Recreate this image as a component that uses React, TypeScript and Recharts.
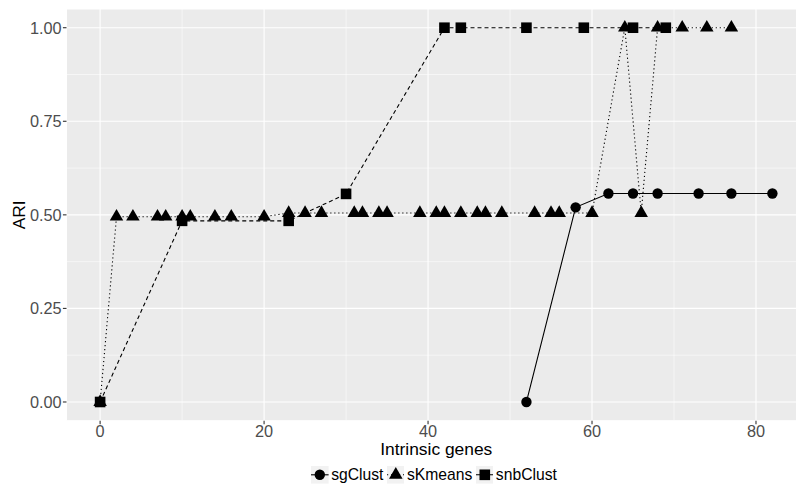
import React from 'react';
import {
  ComposedChart, Line, Scatter, XAxis, YAxis, CartesianGrid, ReferenceLine, Legend,
} from 'recharts';

// ARI per number of intrinsic genes, one pair of arrays per method.
const sgClustX = [52, 58, 62, 65, 68, 73, 77, 82];
const sgClustY = [0, 0.52, 0.557, 0.557, 0.557, 0.557, 0.557, 0.557];

const sKmeansX = [
  0, 2, 4, 7, 8, 10, 11, 14, 16, 20,
  23, 25, 27, 31, 32, 34, 35, 39, 41, 42, 44, 46, 47, 49, 53, 55, 56, 60,
  64, 66, 68, 71, 74, 77,
];
const sKmeansY = [
  0, 0.495, 0.495, 0.495, 0.495, 0.495, 0.495, 0.495, 0.495, 0.495,
  0.505, 0.505, 0.505, 0.505, 0.505, 0.505, 0.505, 0.505, 0.505, 0.505, 0.505, 0.505, 0.505, 0.505, 0.505, 0.505, 0.505, 0.505,
  1, 0.505, 1, 1, 1, 1,
];

const snbClustX = [0, 10, 23, 30, 42, 44, 52, 59, 65, 69];
const snbClustY = [0, 0.484, 0.484, 0.556, 1, 1, 1, 1, 1, 1];

const xTicks = [0, 20, 40, 60, 80];
const xMinor = [10, 30, 50, 70];
const yTicks = [0, 0.25, 0.5, 0.75, 1];
const yMinor = [0.125, 0.375, 0.625, 0.875];

type Shape = 'circle' | 'triangle' | 'square';

const series = [
  { name: 'sgClust', xs: sgClustX, ys: sgClustY, shape: 'circle' as Shape, dash: undefined },
  { name: 'sKmeans', xs: sKmeansX, ys: sKmeansY, shape: 'triangle' as Shape, dash: '1.2 2.8' },
  { name: 'snbClust', xs: snbClustX, ys: snbClustY, shape: 'square' as Shape, dash: '4 3' },
].map((s) => ({ ...s, points: s.xs.map((x, i) => ({ x, y: s.ys[i] })) }));

const FONT = '"Liberation Sans", Arial, Helvetica, sans-serif';
const INK = '#000000';
const TICK_TEXT = { fill: '#4D4D4D', fontSize: 16.3, fontFamily: FONT };
const TICK_LINE = { stroke: '#333333', strokeWidth: 1.1 };

// ggplot-like solid markers (pch 16 / 17 / 15)
const marker = (shape: Shape, cx: number, cy: number) => {
  if (shape === 'circle') return <circle cx={cx} cy={cy} r={5.2} fill={INK} />;
  if (shape === 'square') return <rect x={cx - 5.3} y={cy - 5.3} width={10.6} height={10.6} fill={INK} />;
  const r = 7.8;
  return (
    <polygon
      points={`${cx},${cy - r} ${cx + 0.866 * r},${cy + r / 2} ${cx - 0.866 * r},${cy + r / 2}`}
      fill={INK}
    />
  );
};

const KEY = 17.6;

const renderLegend = () => (
  <div
    style={{
      height: 24,
      display: 'flex',
      alignItems: 'center',
      justifyContent: 'center',
      paddingLeft: 62,
      boxSizing: 'border-box',
      fontFamily: FONT,
      fontSize: 15.7,
      color: INK,
    }}
  >
    {series.map((s, i) => (
      <div
        key={s.name}
        style={{ display: 'flex', alignItems: 'center', marginRight: i < series.length - 1 ? 3.4 : 0 }}
      >
        <svg width={KEY} height={KEY} style={{ display: 'block' }}>
          <rect width={KEY} height={KEY} fill="#F2F2F2" />
          <line
            x1={0}
            y1={KEY / 2}
            x2={KEY}
            y2={KEY / 2}
            stroke={INK}
            strokeWidth={1.1}
            strokeDasharray={s.dash}
          />
          {marker(s.shape, KEY / 2, KEY / 2)}
        </svg>
        <span style={{ marginLeft: 2.5, lineHeight: 1 }}>{s.name}</span>
      </div>
    ))}
  </div>
);

export default function App() {
  return (
    <div
      style={{
        position: 'fixed',
        left: 0,
        top: 0,
        width: 796,
        height: 487,
        overflow: 'hidden',
        background: '#FFFFFF',
      }}
    >
      <ComposedChart
        width={806}
        height={487}
        margin={{ top: 9, right: 0, bottom: 0, left: 0 }}
        style={{ fontFamily: FONT }}
      >
        <CartesianGrid fill="#EBEBEB" stroke="#FFFFFF" strokeWidth={1.1} />
        {xMinor.map((v) => (
          <ReferenceLine key={`vx${v}`} x={v} stroke="#FFFFFF" strokeWidth={0.55} />
        ))}
        {yMinor.map((v) => (
          <ReferenceLine key={`hy${v}`} y={v} stroke="#FFFFFF" strokeWidth={0.55} />
        ))}
        <XAxis
          type="number"
          dataKey="x"
          domain={[-4.1, 86.1]}
          ticks={xTicks}
          allowDataOverflow
          height={42.3}
          axisLine={false}
          tickLine={TICK_LINE}
          tickSize={3.6}
          tickMargin={1}
          tick={TICK_TEXT}
          label={{
            value: 'Intrinsic genes',
            position: 'insideBottom',
            offset: 8.5,
            fill: INK,
            fontSize: 17.4,
            fontFamily: FONT,
          }}
        />
        <YAxis
          type="number"
          dataKey="y"
          domain={[-0.05, 1.05]}
          ticks={yTicks}
          allowDataOverflow
          width={66.5}
          axisLine={false}
          tickLine={TICK_LINE}
          tickSize={3.6}
          tickMargin={1.2}
          tickFormatter={(v: number) => v.toFixed(2)}
          tick={TICK_TEXT}
          label={{
            value: 'ARI',
            angle: -90,
            position: 'insideLeft',
            offset: 18.5,
            fill: INK,
            fontSize: 17.4,
            fontFamily: FONT,
            style: { textAnchor: 'middle' },
          }}
        />
        <Legend verticalAlign="bottom" content={renderLegend} />
        {series.map((s) => (
          <Line
            key={`line-${s.name}`}
            data={s.points}
            dataKey="y"
            name={s.name}
            type="linear"
            stroke={INK}
            strokeWidth={1.1}
            strokeDasharray={s.dash}
            dot={false}
            activeDot={false}
            legendType="none"
            isAnimationActive={false}
          />
        ))}
        {series.map((s) => (
          <Scatter
            key={`pts-${s.name}`}
            data={s.points}
            name={s.name}
            legendType="none"
            isAnimationActive={false}
            shape={(p: any) => marker(s.shape, p.cx, p.cy)}
          />
        ))}
      </ComposedChart>
    </div>
  );
}
